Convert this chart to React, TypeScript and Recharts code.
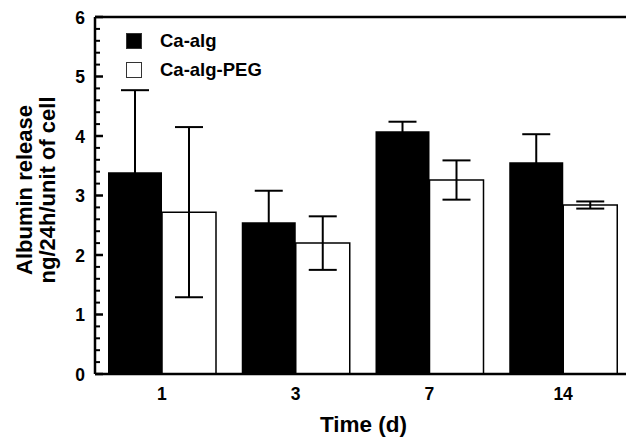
import React from "react";
import { BarChart, Bar, XAxis, YAxis, ErrorBar, Legend, ReferenceLine } from "recharts";

const days = ["1", "3", "7", "14"];
const caAlg = [3.39, 2.55, 4.08, 3.56];
const caAlgErr = [1.38, 0.53, 0.16, 0.47];
const caAlgPeg = [2.72, 2.2, 3.26, 2.84];
const caAlgPegErr = [1.43, 0.45, 0.33, 0.06];
const yTicks = Array.from({ length: 31 }, (_, i) => Number((i * 0.2).toFixed(1)));

const data = days.map((d, i) => ({
  day: d,
  caAlg: caAlg[i],
  caAlgErr: caAlgErr[i],
  caAlgPeg: caAlgPeg[i],
  caAlgPegErr: caAlgPegErr[i],
}));

const FONT = '"Liberation Sans", Arial, Helvetica, sans-serif';

const LeftTick = ({ x, y, payload }: any) => {
  const major = Number.isInteger(payload.value);
  return (
    <g>
      <line x1={x} x2={x + (major ? 8 : 5)} y1={y} y2={y} stroke="#000" strokeWidth={major ? 2.5 : 2} />
      {major && (
        <text x={x - 10} y={y} dy={6.5} textAnchor="end" fontFamily={FONT} fontWeight="bold" fontSize={17.5} fill="#000">
          {payload.value}
        </text>
      )}
    </g>
  );
};

const RightTick = ({ x, y, payload }: any) => {
  const major = Number.isInteger(payload.value);
  return <line x1={x} x2={x - (major ? 8 : 5)} y1={y} y2={y} stroke="#000" strokeWidth={major ? 2.5 : 2} />;
};

const BottomTick = ({ x, y, payload }: any) => (
  <text x={x} y={y} dy={26} textAnchor="middle" fontFamily={FONT} fontWeight="bold" fontSize={17.5} fill="#000">
    {payload.value}
  </text>
);

const legendItems = [
  { label: "Ca-alg", fill: "#000" },
  { label: "Ca-alg-PEG", fill: "#fff" },
];

const LegendBox = () => (
  <div style={{ fontFamily: FONT, fontWeight: "bold", fontSize: 18.5, color: "#000" }}>
    {legendItems.map((it) => (
      <div key={it.label} style={{ display: "flex", alignItems: "center", height: 29 }}>
        <div
          style={{
            width: 16,
            height: 16,
            background: it.fill,
            border: "1px solid #333",
            boxSizing: "border-box",
            marginRight: 18,
          }}
        />
        <span>{it.label}</span>
      </div>
    ))}
  </div>
);

export default function App() {
  return (
    <div style={{ position: "absolute", left: 0, top: 0, width: 626, height: 439, overflow: "hidden", background: "#fff" }}>
      <BarChart width={640} height={439} data={data} margin={{ top: 17, right: 0, bottom: 0, left: 0 }} barGap={0} barSize={54}>
        <XAxis
          dataKey="day"
          height={65}
          tickLine={false}
          tickSize={0}
          tickMargin={0}
          axisLine={{ stroke: "#000", strokeWidth: 2.5 }}
          tick={<BottomTick />}
          label={{
            content: ({ viewBox }: any) => (
              <text
                x={viewBox.x + viewBox.width / 2 + 1}
                y={viewBox.y + 58}
                textAnchor="middle"
                fontFamily={FONT}
                fontWeight="bold"
                fontSize={22.5}
                fill="#000"
              >
                Time (d)
              </text>
            ),
          }}
        />
        <YAxis
          yAxisId="left"
          width={95}
          domain={[0, 6]}
          ticks={yTicks}
          interval={0}
          tickLine={false}
          tickSize={0}
          tickMargin={0}
          axisLine={{ stroke: "#000", strokeWidth: 2.5 }}
          tick={<LeftTick />}
          label={{
            content: () => (
              <g fontFamily={FONT} fontWeight="bold" fontSize={22} fill="#000">
                <text x={32} y={190} textAnchor="middle" transform="rotate(-90, 32, 190)">
                  Albumin release
                </text>
                <text x={55} y={190} textAnchor="middle" transform="rotate(-90, 55, 190)">
                  ng/24h/unit of cell
                </text>
              </g>
            ),
          }}
        />
        <YAxis
          yAxisId="right"
          orientation="right"
          width={10}
          domain={[0, 6]}
          ticks={yTicks}
          interval={0}
          tickLine={false}
          tickSize={0}
          tickMargin={0}
          axisLine={{ stroke: "#000", strokeWidth: 2.5 }}
          tick={<RightTick />}
        />
        <ReferenceLine yAxisId="left" y={6} stroke="#000" strokeWidth={2.5} />
        <Legend
          layout="vertical"
          align="center"
          verticalAlign="middle"
          content={<LegendBox />}
          wrapperStyle={{ left: 126, top: 26, width: "auto" }}
        />
        <Bar yAxisId="left" dataKey="caAlg" fill="#000" isAnimationActive={false}>
          <ErrorBar dataKey="caAlgErr" width={14} stroke="#000" strokeWidth={2} />
        </Bar>
        <Bar yAxisId="left" dataKey="caAlgPeg" fill="#fff" stroke="#000" strokeWidth={1.5} isAnimationActive={false}>
          <ErrorBar dataKey="caAlgPegErr" width={14} stroke="#000" strokeWidth={2} />
        </Bar>
      </BarChart>
    </div>
  );
}
